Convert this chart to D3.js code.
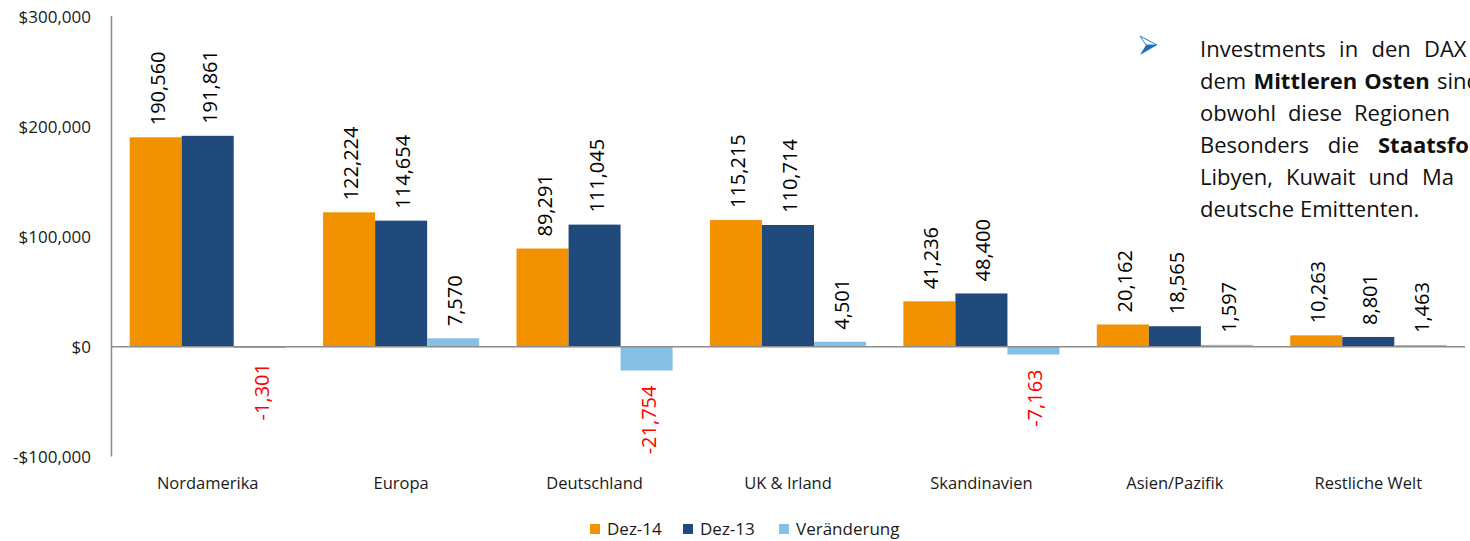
<!DOCTYPE html>
<html>
<head>
<meta charset="utf-8">
<script src="https://cdn.jsdelivr.net/npm/d3@7"></script>
<style>
  body { margin: 0; background: #fff; overflow: hidden; }
  text { font-family: "Open Sans", "Liberation Sans", sans-serif; }
</style>
</head>
<body>
<div id="chart-area"></div>
<script>
// Data
const categories = ["Nordamerika", "Europa", "Deutschland", "UK & Irland", "Skandinavien", "Asien/Pazifik", "Restliche Welt"];
const seriesNames = ["Dez-14", "Dez-13", "Veränderung"];
const dez14 = [190560, 122224, 89291, 115215, 41236, 20162, 10263];
const dez13 = [191861, 114654, 111045, 110714, 48400, 18565, 8801];
const change = [-1301, 7570, -21754, 4501, -7163, 1597, 1463];
const yTicks = [-100000, 0, 100000, 200000, 300000];

// note text on the right (word, bold flag)
const noteLines = [
  [["Investments"], ["in"], ["den"], ["DAX"]],
  [["dem"], ["Mittleren", 1], ["Osten", 1], ["sind"]],
  [["obwohl"], ["diese"], ["Regionen"]],
  [["Besonders"], ["die"], ["Staatsfonds", 1]],
  [["Libyen,"], ["Kuwait"], ["und"], ["Ma"]],
  [["deutsche"], ["Emittenten."]]
];
// start x of the last visible word per line (justified text), null = plain spacing
const noteLastX = [1424, 1437, 1354, 1378, 1422, null];

const colors = ["#f39200", "#214a7c", "#86c0e5"];
const width = 1470, height = 541;

const svg = d3.select("#chart-area").append("svg")
  .attr("width", width)
  .attr("height", height);

const locale = d3.formatLocale({decimal: ".", thousands: ",", grouping: [3], currency: ["$", ""], minus: "-"});
const fmtMoney = locale.format("$,");
const fmtNum = locale.format(",");

// scales
const x0 = d3.scaleBand()
  .domain(categories)
  .range([111, 1465])
  .paddingInner(0.193)
  .paddingOuter(0.0965);
const x1 = d3.scaleBand()
  .domain(seriesNames)
  .range([0, x0.bandwidth()]);
const y = d3.scaleLinear()
  .domain([-100000, 300000])
  .range([456.5, 17]);

const rows = categories.map((c, i) => ({cat: c, vals: [dez14[i], dez13[i], change[i]]}));

// y axis (labels only + line)
const yAxis = d3.axisLeft(y).tickValues(yTicks).tickFormat(fmtMoney).tickSize(0).tickPadding(0);
const ya = svg.append("g")
  .attr("transform", "translate(91,0)")
  .call(yAxis);
ya.select(".domain").remove();
ya.selectAll("text")
  .attr("dy", "0.35em")
  .style("font-size", "17px")
  .style("font-family", "'Open Sans', sans-serif")
  .attr("fill", "#1a1a1a");

// bars
const groups = svg.append("g").selectAll("g")
  .data(rows)
  .enter().append("g")
  .attr("transform", d => "translate(" + x0(d.cat) + ",0)");

groups.selectAll("rect")
  .data(d => d.vals.map((v, k) => ({v: v, s: seriesNames[k], k: k})))
  .enter().append("rect")
  .attr("x", d => x1(d.s))
  .attr("y", d => y(Math.max(0, d.v)))
  .attr("width", x1.bandwidth())
  .attr("height", d => Math.abs(y(d.v) - y(0)))
  .attr("fill", d => colors[d.k]);

// data labels
groups.selectAll("text.lbl")
  .data(d => d.vals.map((v, k) => ({v: v, s: seriesNames[k], k: k})))
  .enter().append("text")
  .attr("class", "lbl")
  .attr("transform", d => {
    const cx = x1(d.s) + x1.bandwidth() / 2 + 2;
    const yy = d.v >= 0 ? y(d.v) - 12 : y(d.v) + 15;
    return "translate(" + cx + "," + yy + ") rotate(-90)";
  })
  .attr("dy", "0.35em")
  .attr("text-anchor", d => d.v >= 0 ? "start" : "end")
  .style("font-size", "20px")
  .attr("fill", d => d.v >= 0 ? "#000" : "#ff0000")
  .text(d => fmtNum(d.v));

// axis lines
svg.append("line")
  .attr("x1", 111).attr("x2", 1465)
  .attr("y1", y(0)).attr("y2", y(0))
  .attr("stroke", "#8c8c8c").attr("stroke-width", 1.5);
svg.append("line")
  .attr("x1", 111.5).attr("x2", 111.5)
  .attr("y1", 16).attr("y2", y(-100000))
  .attr("stroke", "#8c8c8c").attr("stroke-width", 1.5);

// category labels
svg.append("g").selectAll("text")
  .data(categories)
  .enter().append("text")
  .attr("x", d => x0(d) + x0.bandwidth() / 2)
  .attr("y", 489)
  .attr("text-anchor", "middle")
  .style("font-size", "16.5px")
  .attr("fill", "#1a1a1a")
  .text(d => d);

// legend
const legendX = [590, 683, 779];
const legend = svg.append("g").selectAll("g")
  .data(seriesNames)
  .enter().append("g")
  .attr("transform", (d, i) => "translate(" + legendX[i] + ",524)");
legend.append("rect")
  .attr("width", 10).attr("height", 10)
  .attr("fill", (d, i) => colors[i]);
legend.append("text")
  .attr("x", 17).attr("y", 11)
  .style("font-size", "17px")
  .attr("fill", "#1a1a1a")
  .text(d => d);

// note with bullet arrow
const arrow = svg.append("g").attr("transform", "translate(1140,36)");
arrow.append("path")
  .attr("d", "M0,0 L17,9 L6,9 Z")
  .attr("fill", "#ffffff").attr("stroke", "#2a7fd0").attr("stroke-width", 1);
arrow.append("path")
  .attr("d", "M0,19 L17,9 L6,9 Z")
  .attr("fill", "#1f6fbf");

// justified lines: first word at left edge, last visible word at its measured start
const noteLeft = 1200, baseY = 57, lineH = 32;
const note = svg.append("g");
noteLines.forEach((words, li) => {
  const nodes = words.map(w => note.append("text")
    .attr("y", baseY + li * lineH)
    .style("font-size", "22px")
    .style("font-weight", w[1] ? "bold" : "normal")
    .attr("fill", "#111")
    .text(w[0]));
  const widths = nodes.map(n => n.node().getComputedTextLength());
  let gap = 6;
  if (noteLastX[li] != null && words.length > 1) {
    const inner = d3.sum(widths.slice(0, -1));
    gap = (noteLastX[li] - noteLeft - inner) / (words.length - 1);
  }
  let xx = noteLeft;
  nodes.forEach((n, k) => {
    n.attr("x", xx);
    xx += widths[k] + gap;
  });
});
</script>
</body>
</html>
